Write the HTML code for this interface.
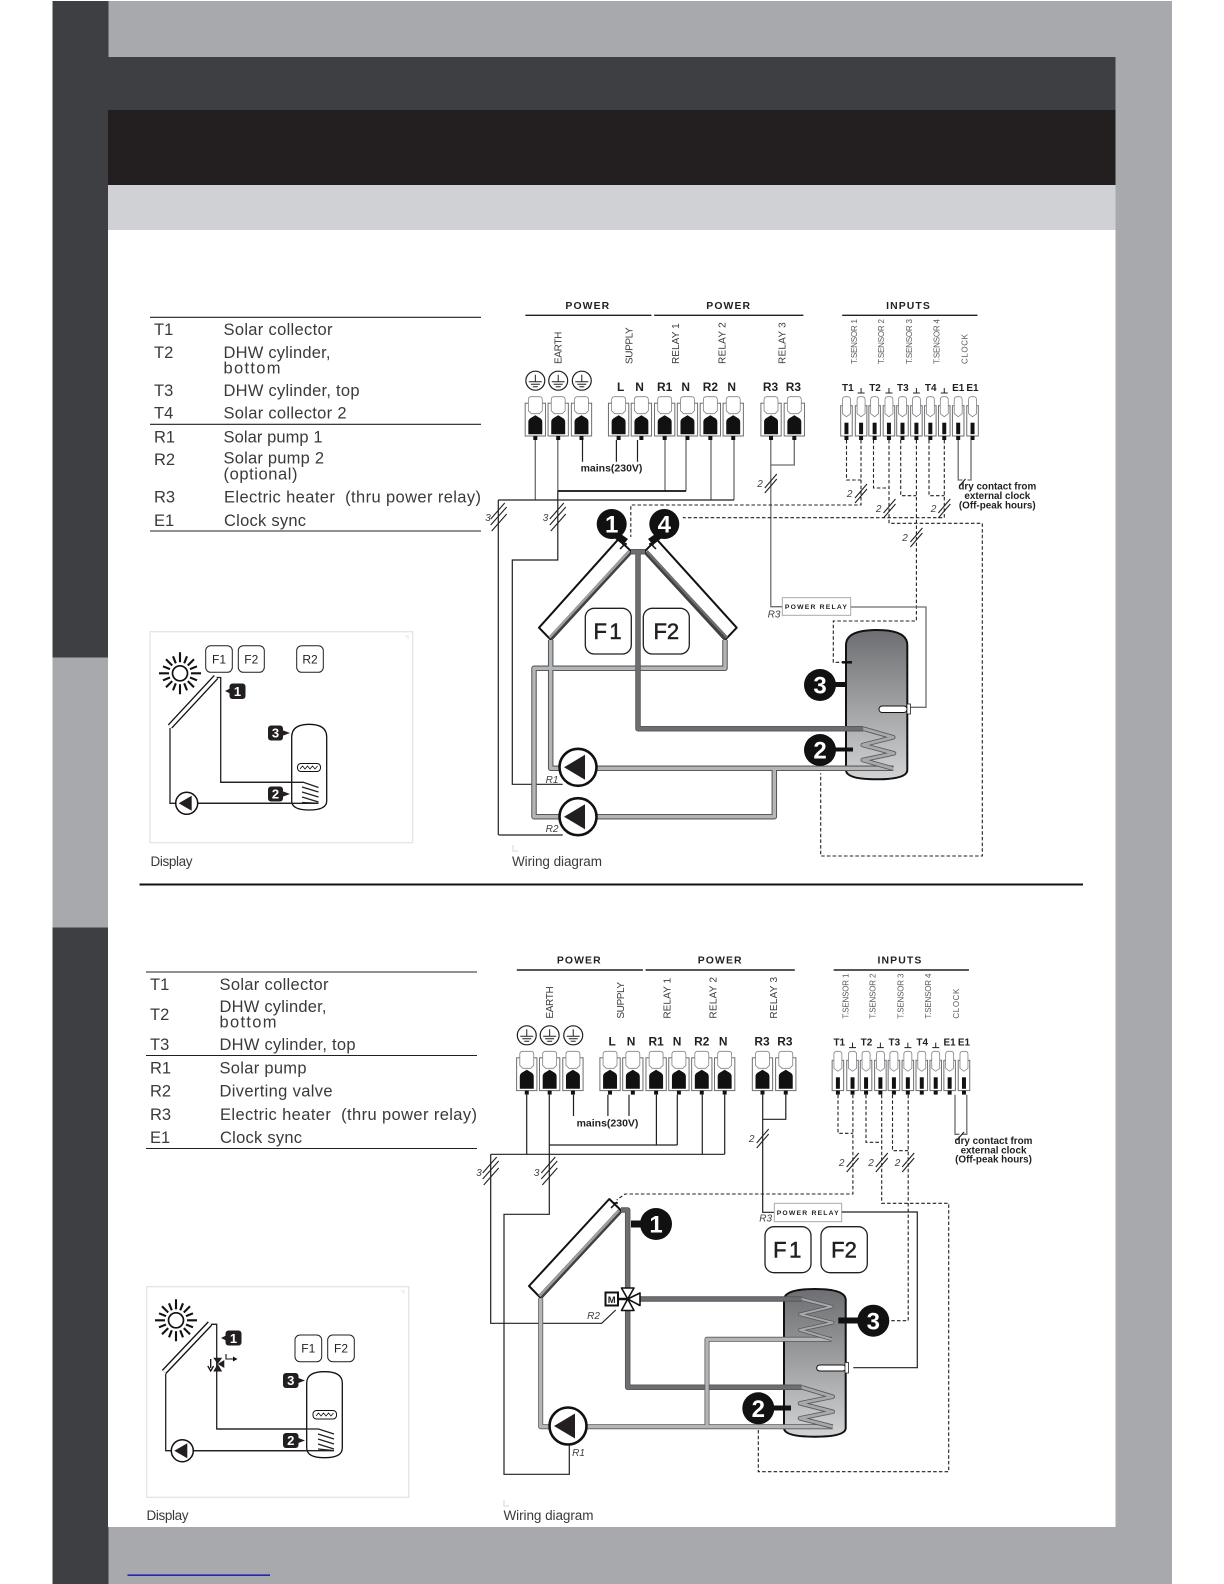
<!DOCTYPE html>
<html><head><meta charset="utf-8">
<style>
html,body{margin:0;padding:0;background:#fff;width:1224px;height:1584px;overflow:hidden}
svg{display:block}
text{font-family:"Liberation Sans",sans-serif;white-space:pre}
.t{font-size:16.5px;fill:#3a3a3c}
.h{font-size:10.5px;font-weight:bold;fill:#231f20;text-anchor:middle;letter-spacing:1.1px}
.v{font-size:10px;fill:#3a3a3c}
.vs{font-size:8px;fill:#58595b}
.b{font-size:12px;font-weight:bold;fill:#231f20;text-anchor:middle}
.bs{font-size:10px;font-weight:bold;fill:#231f20;text-anchor:middle}
.d{font-size:9.9px;font-weight:bold;fill:#231f20;text-anchor:middle}
.n{font-size:10px;font-style:italic;fill:#414042;text-anchor:middle}
.pr{font-size:6.8px;font-weight:bold;fill:#231f20;text-anchor:middle;letter-spacing:1.2px}
.c{font-size:24px;font-weight:bold;fill:#fff;text-anchor:middle}
.f{font-size:22px;fill:#231f20;text-anchor:middle;stroke:#231f20;stroke-width:.5}
.fs{font-size:12px;fill:#231f20;text-anchor:middle}
.cs{font-size:13px;font-weight:bold;fill:#fff;text-anchor:middle}
.w{fill:none;stroke:#231f20;stroke-width:1.2}
.g{fill:none;stroke:#6d6e71;stroke-width:1.3}
.k{fill:none;stroke:#231f20;stroke-width:1.1;stroke-dasharray:3.5 2.2}
.po{fill:none;stroke:#58595b;stroke-width:5.5;stroke-linejoin:round}
.pl{fill:none;stroke:#b3b5b7;stroke-width:3.4;stroke-linejoin:round}
.pd{fill:none;stroke:#6d6e71;stroke-width:3.6;stroke-linejoin:round}
.co{fill:none;stroke:#58595b;stroke-width:4.5;stroke-linejoin:round}
.cl{fill:none;stroke:#a7a9ac;stroke-width:2.8;stroke-linejoin:round}
.dl{fill:none;stroke:#231f20;stroke-width:1.3}
</style></head><body>
<svg width="1224" height="1584" viewBox="0 0 1224 1584" xmlns="http://www.w3.org/2000/svg">
<defs>
<linearGradient id="tank" x1="0" y1="0" x2="0" y2="1"><stop offset="0" stop-color="#6d6e71"/><stop offset="1" stop-color="#d1d3d4"/></linearGradient>
<g id="tb">
<rect x="-10.2" y="6.5" width="20.4" height="32.8" fill="#fff" stroke="#6d6e71" stroke-width="1"/>
<path d="M-7 14V3q0-3 3-3h8q3 0 3 3v11l-3 3h-8z" fill="#fff" stroke="#808285" stroke-width=".8"/>
<path d="M-7 37.5V25q0-2 2-3.500l5-3 5 3q2 1.500 2 3.500v12.500z" fill="#111"/>
<rect x="-2" y="39.3" width="4" height="4" fill="#111"/>
</g>
<g id="ts">
<rect x="-5.8" y="9" width="11.6" height="30.3" fill="#fff" stroke="#6d6e71" stroke-width="1"/>
<path d="M-4 17V3q0-3 3-3h2q3 0 3 3v14l-4 3z" fill="#fff" stroke="#808285" stroke-width=".8"/>
<rect x="-2" y="26" width="4" height="11.5" fill="#111"/>
<rect x="-2" y="39.3" width="4" height="4" fill="#111"/>
</g>
<g id="e" fill="none" stroke="#231f20" stroke-width="1">
<circle r="9.5" stroke-width="1.2"/><path d="M0-6V1M-6.5 1H6.5M-4.5 3.5H4.5M-2.5 6H2.5"/>
</g>
<g id="gd" fill="none" stroke="#231f20" stroke-width="1"><path d="M0-5V0M-3.5 0H3.5"/></g>
<path id="s3" d="M-8 6L6-10M-8 12L8-6M-7 18L8 1" fill="none" stroke="#231f20" stroke-width="1.1" transform="translate(0,-4)"/>
<path id="s2" d="M-6 5L6-9M-6 10L6-4" fill="none" stroke="#231f20" stroke-width="1.1"/>
<g id="pump">
<circle r="18.5" fill="#fff" stroke="#111" stroke-width="2.6"/>
<path d="M-14 0L7-12.5V12.5z" fill="#231f20"/>
</g>
<g id="sun" fill="none" stroke="#111" stroke-width="2.1">
<circle r="7.5" stroke-width="1.7"/>
<path d="M11 0H21M-11 0H-21M0 11V21M0-11V-21M7.8 7.8L14 14M-7.8 7.8L-14 14M7.8-7.8L14-14M-7.8-7.8L-14-14M10 4.2L17 7M-10 4.2L-17 7M10-4.2L17-7M-10-4.2L-17-7M4.2 10L7 17M-4.2 10L-7 17M4.2-10L7-17M-4.2-10L-7-17"/>
</g>
<g id="minip"><circle r="11" fill="#fff" stroke="#111" stroke-width="1.5"/><path d="M-8 0L5-7.5V7.5z" fill="#231f20"/></g>
</defs>

<!-- page background -->
<rect x="52.5" y="1" width="1119.5" height="1583" fill="#a7a9ac"/>
<rect x="52.5" y="1" width="56" height="656.5" fill="#3d3f42"/>
<rect x="52.5" y="927.5" width="56" height="656.5" fill="#3d3f42"/>
<rect x="108" y="57" width="1007.5" height="53" fill="#3d3f42"/>
<rect x="108" y="110" width="1007.5" height="75" fill="#231f20"/>
<rect x="108" y="185" width="1007.5" height="45" fill="#d0d1d5"/>
<rect x="108" y="230" width="1007.5" height="1297" fill="#fff"/>
<rect x="127.5" y="1574.5" width="142.500" height="1.3" fill="#0000e0"/>
<rect x="139.5" y="883.5" width="943.5" height="2" fill="#111"/>

<!-- table 1 -->
<g stroke="#231f20" stroke-width="1.1"><path d="M150 317.3H481M150 424.3H481M150 531H481"/></g>
<text class="t" x="154" y="335">T1</text><text class="t" x="223.5" y="335" textLength="109">Solar collector</text>
<text class="t" x="154" y="358">T2</text><text class="t" x="223.5" y="358" textLength="107">DHW cylinder,</text><text class="t" x="223.5" y="373.5" textLength="57">bottom</text>
<text class="t" x="154" y="396">T3</text><text class="t" x="223.5" y="396" textLength="136">DHW cylinder, top</text>
<text class="t" x="154" y="418.5">T4</text><text class="t" x="223.5" y="418.5" textLength="123">Solar collector 2</text>
<text class="t" x="154" y="442.3">R1</text><text class="t" x="223.5" y="442.3" textLength="99">Solar pump 1</text>
<text class="t" x="154" y="465">R2</text><text class="t" x="223.5" y="463.3" textLength="100.5">Solar pump 2</text><text class="t" x="223.5" y="479.5" textLength="74">(optional)</text>
<text class="t" x="154" y="502.7">R3</text><text class="t" x="224" y="502.7" textLength="257">Electric heater  (thru power relay)</text>
<text class="t" x="154" y="526">E1</text><text class="t" x="224" y="526" textLength="82">Clock sync</text>

<!-- table 2 -->
<g stroke="#231f20" stroke-width="1.1"><path d="M146 972H477M146 1055.5H477M146 1148.5H477"/></g>
<text class="t" x="150" y="990">T1</text><text class="t" x="219.5" y="990" textLength="109">Solar collector</text>
<text class="t" x="150" y="1020">T2</text><text class="t" x="219.5" y="1012" textLength="107">DHW cylinder,</text><text class="t" x="219.5" y="1027.5" textLength="57">bottom</text>
<text class="t" x="150" y="1050">T3</text><text class="t" x="219.5" y="1050" textLength="136">DHW cylinder, top</text>
<text class="t" x="150" y="1073.5">R1</text><text class="t" x="219.5" y="1073.5" textLength="87">Solar pump</text>
<text class="t" x="150" y="1096.5">R2</text><text class="t" x="219.5" y="1096.5" textLength="113">Diverting valve</text>
<text class="t" x="150" y="1120">R3</text><text class="t" x="220" y="1120" textLength="257">Electric heater  (thru power relay)</text>
<text class="t" x="150" y="1143">E1</text><text class="t" x="220" y="1143" textLength="82">Clock sync</text>

<!-- captions -->
<text class="t" x="150.5" y="866" style="font-size:13.5px" textLength="42">Display</text>
<text class="t" x="512" y="866" style="font-size:13.5px" textLength="90">Wiring diagram</text>
<text class="t" x="146.5" y="1520" style="font-size:13.5px" textLength="42">Display</text>
<text class="t" x="503.5" y="1520" style="font-size:13.5px" textLength="90">Wiring diagram</text>
<path d="M513 845V851H518M504 1500V1506H509" fill="none" stroke="#e3e4e5" stroke-width="1.5"/>

<!-- display panel 1 -->
<rect x="150" y="631.7" width="262.7" height="211" fill="#fff" stroke="#e3e4e5" stroke-width="1.3"/>
<path d="M405 636h3v3" fill="none" stroke="#e3e4e5"/>
<use href="#sun" x="180" y="673.3"/>
<g fill="#fff" stroke="#231f20" stroke-width="1"><rect x="205.7" y="645.7" width="26.6" height="26.6" rx="5"/><rect x="238.3" y="645.7" width="26" height="26.6" rx="5"/><rect x="296.7" y="645.7" width="26.6" height="26.6" rx="5"/></g>
<text class="fs" x="219" y="663.5">F1</text><text class="fs" x="251.3" y="663.5">F2</text><text class="fs" x="310" y="663.5">R2</text>
<path d="M216 677L170 726.5" stroke="#111" stroke-width="6" fill="none"/><path d="M216 677L170 726.5" stroke="#fff" stroke-width="3.4" fill="none"/>
<path class="dl" d="M216.7 677.5H220.7V782.3H303.3M170 728V803.3H176M197 803.3H318.3"/>
<path d="M291.7 737q0-12.7 17.5-12.7t17.5 12.7v64q0 9-17.5 9t-17.5-9z" fill="#fff" stroke="#111" stroke-width="1.3"/>
<path class="dl" d="M220.7 782.3H303.3L318.5 787.5M302 787L318.5 792M302 792L318.5 797M302 797L318.5 802M302 802.5L318.5 803.3M197 803.3H318.3"/>
<rect x="297.5" y="763.5" width="23" height="8" rx="3.5" fill="#fff" stroke="#111" stroke-width="1"/>
<path d="M300 769l2.5-3 2.5 3 2.5-3 2.5 3 2.5-3 2.5 3 2.5-3" fill="none" stroke="#111" stroke-width=".8"/>
<use href="#minip" x="186.7" y="803.3"/>
<g fill="#231f20">
<rect x="229.5" y="683.5" width="16" height="15.5" rx="3"/><path d="M225 691l6-3v6z"/>
<rect x="268" y="725.5" width="15" height="15" rx="3"/><path d="M290 733l-8-3v6z"/>
<rect x="268" y="786.5" width="15" height="15" rx="3"/><path d="M290 794l-8-3v6z"/>
</g>
<text class="cs" x="237.5" y="696">1</text><text class="cs" x="275.5" y="737.5">3</text><text class="cs" x="275.5" y="798.5">2</text>

<!-- display panel 2 -->
<rect x="146.7" y="1286.7" width="262" height="210.6" fill="#fff" stroke="#e3e4e5" stroke-width="1.3"/>
<path d="M401 1291h3v3" fill="none" stroke="#e3e4e5"/>
<use href="#sun" x="176" y="1320.3"/>
<g fill="#fff" stroke="#231f20" stroke-width="1"><rect x="295" y="1335" width="26.7" height="26.7" rx="5"/><rect x="327.7" y="1335" width="26.6" height="26.7" rx="5"/></g>
<text class="fs" x="308.3" y="1352.5">F1</text><text class="fs" x="341" y="1352.5">F2</text>
<path d="M210 1323.5L164 1372" stroke="#111" stroke-width="6" fill="none"/><path d="M210 1323.5L164 1372" stroke="#fff" stroke-width="3.4" fill="none"/>
<path class="dl" d="M211 1324.3H216.7V1429H318.3M165.7 1374V1450.7H172M193 1450.7H333.3"/>
<path d="M306.7 1383q0-11.3 17.8-11.3t17.8 11.3v65q0 9.7-17.8 9.7t-17.8-9.7z" fill="#fff" stroke="#111" stroke-width="1.3"/>
<path class="dl" d="M217 1429H318.5L334 1434M318 1434L334 1439M318 1439L334 1444M318 1444L334 1449M318 1449L334 1450.7M193 1450.7H333.3"/>
<rect x="313" y="1410.5" width="23.5" height="8.5" rx="3.5" fill="#fff" stroke="#111" stroke-width="1"/>
<path d="M316 1416l2.5-3 2.5 3 2.5-3 2.5 3 2.5-3 2.5 3 2.5-3" fill="none" stroke="#111" stroke-width=".8"/>
<path d="M213.2 1357.700h9l-4.500 6.300zM213.2 1371.500h9l-4.500-7.500zM224.300 1360v8l-6.600-4z" fill="#231f20"/>
<path d="M210.700 1359v9M207.800 1366l2.900 5 2.900-5" fill="none" stroke="#111" stroke-width="1.3"/>
<path d="M226 1354v5h8" fill="none" stroke="#111" stroke-width="1.1"/><path d="M233 1356.500l4.500 2.500-4.500 2.500z" fill="#111"/>
<use href="#minip" x="182.3" y="1450.7"/>
<g fill="#231f20">
<rect x="225.500" y="1330.500" width="16" height="15" rx="3"/><path d="M221 1338l6-3v6z"/>
<rect x="283" y="1373" width="15.500" height="15" rx="3"/><path d="M305 1380.500l-8-3v6z"/>
<rect x="283" y="1433" width="15.500" height="15" rx="3"/><path d="M305 1440.500l-8-3v6z"/>
</g>
<text class="cs" x="233.500" y="1343">1</text><text class="cs" x="290.800" y="1385">3</text><text class="cs" x="290.800" y="1445">2</text>

<!-- HEADER TOP -->
<g transform="translate(2.4,0) scale(.995,1)">
<text class="h" x="588.4" y="309">POWER</text><text class="h" x="730" y="309">POWER</text><text class="h" x="910.7" y="309">INPUTS</text>
<path d="M525.6 315.3H652.3M655 315.3H805M844 315.3H980" stroke="#231f20" stroke-width="1.3"/>
<text class="v" transform="translate(562,364) rotate(-90)" textLength="32.3">EARTH</text>
<text class="v" transform="translate(633.5,364) rotate(-90)" textLength="36.7">SUPPLY</text>
<text class="v" transform="translate(680,364) rotate(-90)" textLength="40.7">RELAY 1</text>
<text class="v" transform="translate(726.5,364) rotate(-90)" textLength="41.7">RELAY 2</text>
<text class="v" transform="translate(787,364) rotate(-90)" textLength="41.7">RELAY 3</text>
<text class="vs" transform="translate(859,364) rotate(-90)" textLength="45">T.SENSOR 1</text>
<text class="vs" transform="translate(886,364) rotate(-90)" textLength="45">T.SENSOR 2</text>
<text class="vs" transform="translate(914,364) rotate(-90)" textLength="45">T.SENSOR 3</text>
<text class="vs" transform="translate(942,364) rotate(-90)" textLength="45">T.SENSOR 4</text>
<text class="vs" transform="translate(970,364) rotate(-90)" textLength="30">CLOCK</text>
<use href="#e" x="535.6" y="380.7"/><use href="#e" x="558.6" y="380.7"/><use href="#e" x="582.3" y="380.7"/>
<text class="b" x="621.4" y="391">L</text><text class="b" x="640.4" y="391">N</text><text class="b" x="665.6" y="391">R1</text><text class="b" x="686.7" y="391">N</text><text class="b" x="711.5" y="391">R2</text><text class="b" x="733" y="391">N</text><text class="b" x="772" y="391">R3</text><text class="b" x="795" y="391">R3</text>
<text class="bs" x="849.7" y="391">T1</text><text class="bs" x="877" y="391">T2</text><text class="bs" x="905" y="391">T3</text><text class="bs" x="933" y="391">T4</text><text class="bs" x="960.6" y="391">E1</text><text class="bs" x="975" y="391">E1</text>
<use href="#gd" x="863" y="393"/><use href="#gd" x="891" y="393"/><use href="#gd" x="918.6" y="393"/><use href="#gd" x="946.6" y="393"/>
<g transform="translate(0,396.7)">
<use href="#tb" x="535.6"/><use href="#tb" x="558.6"/><use href="#tb" x="582"/><use href="#tb" x="619.3"/><use href="#tb" x="642.2"/><use href="#tb" x="665.6"/><use href="#tb" x="688.5"/><use href="#tb" x="711.5"/><use href="#tb" x="734.5"/><use href="#tb" x="772.5"/><use href="#tb" x="795.9"/>
<use href="#ts" x="848.3"/><use href="#ts" x="863"/><use href="#ts" x="876.6"/><use href="#ts" x="891"/><use href="#ts" x="904.6"/><use href="#ts" x="918.6"/><use href="#ts" x="932.6"/><use href="#ts" x="946.6"/><use href="#ts" x="960.6"/><use href="#ts" x="975"/>
</g>
</g>

<!-- HEADER BOTTOM -->
<g transform="translate(2.4,0) scale(.995,1)">
<text class="h" x="579.8" y="963.6">POWER</text><text class="h" x="721.4" y="963.6">POWER</text><text class="h" x="902.1" y="963.6">INPUTS</text>
<path d="M517 970H643.7M646.4 970H796.4M835.4 970H971.4" stroke="#231f20" stroke-width="1.5"/>
<text class="v" transform="translate(553.4,1018.6) rotate(-90)" textLength="32.3">EARTH</text>
<text class="v" transform="translate(624.9,1018.6) rotate(-90)" textLength="36.7">SUPPLY</text>
<text class="v" transform="translate(671.4,1018.6) rotate(-90)" textLength="40.7">RELAY 1</text>
<text class="v" transform="translate(717.9,1018.6) rotate(-90)" textLength="41.7">RELAY 2</text>
<text class="v" transform="translate(778.4,1018.6) rotate(-90)" textLength="41.7">RELAY 3</text>
<text class="vs" transform="translate(850.4,1018.6) rotate(-90)" textLength="45">T.SENSOR 1</text>
<text class="vs" transform="translate(877.4,1018.6) rotate(-90)" textLength="45">T.SENSOR 2</text>
<text class="vs" transform="translate(905.4,1018.6) rotate(-90)" textLength="45">T.SENSOR 3</text>
<text class="vs" transform="translate(933.4,1018.6) rotate(-90)" textLength="45">T.SENSOR 4</text>
<text class="vs" transform="translate(961.4,1018.6) rotate(-90)" textLength="30">CLOCK</text>
<use href="#e" x="527" y="1035.3"/><use href="#e" x="550" y="1035.3"/><use href="#e" x="573.7" y="1035.3"/>
<text class="b" x="612.8" y="1045.6">L</text><text class="b" x="631.8" y="1045.6">N</text><text class="b" x="657" y="1045.6">R1</text><text class="b" x="678.1" y="1045.6">N</text><text class="b" x="702.9" y="1045.6">R2</text><text class="b" x="724.4" y="1045.6">N</text><text class="b" x="763.4" y="1045.6">R3</text><text class="b" x="786.4" y="1045.6">R3</text>
<text class="bs" x="841.1" y="1045.6">T1</text><text class="bs" x="868.4" y="1045.6">T2</text><text class="bs" x="896.4" y="1045.6">T3</text><text class="bs" x="924.4" y="1045.6">T4</text><text class="bs" x="952" y="1045.6">E1</text><text class="bs" x="966.4" y="1045.6">E1</text>
<use href="#gd" x="854.4" y="1047.6"/><use href="#gd" x="882.4" y="1047.6"/><use href="#gd" x="910" y="1047.6"/><use href="#gd" x="938" y="1047.6"/>
<g transform="translate(-8.6,1051.3)">
<use href="#tb" x="535.6"/><use href="#tb" x="558.6"/><use href="#tb" x="582"/><use href="#tb" x="619.3"/><use href="#tb" x="642.2"/><use href="#tb" x="665.6"/><use href="#tb" x="688.5"/><use href="#tb" x="711.5"/><use href="#tb" x="734.5"/><use href="#tb" x="772.5"/><use href="#tb" x="795.9"/>
<use href="#ts" x="848.3"/><use href="#ts" x="863"/><use href="#ts" x="876.6"/><use href="#ts" x="891"/><use href="#ts" x="904.6"/><use href="#ts" x="918.6"/><use href="#ts" x="932.6"/><use href="#ts" x="946.6"/><use href="#ts" x="960.6"/><use href="#ts" x="975"/>
</g>
</g>

<!-- TOP: wiring -->
<path class="g" d="M535.3 440V500M557.8 440V491M665 440V491M686 440V491M711 440V500M734 440V500M770.8 440V606.7H782.3M794.3 440V465H770.8M958.2 440V480H962.5M971 440V480H967.5"/>
<path d="M557.8 491H686" stroke="#111" stroke-width="1.7" fill="none"/>
<path class="w" d="M582.500 440V461.7M616.4 440V461.7M637.5 440V461.7M557.8 491V560H512.3V784.3H562.7M498.7 835H562.7M498.3 500V835M498.3 500H734M959.5 486L965.500 479"/>
<text class="d" x="611.5" y="471.5" style="font-size:10.5px">mains(230V)</text>
<use href="#s3" x="498.7" y="517"/><use href="#s3" x="557.8" y="517"/><use href="#s2" x="770.8" y="483"/><use href="#s2" x="861" y="493"/><use href="#s2" x="889.5" y="508"/><use href="#s2" x="944.3" y="508"/><use href="#s2" x="916.4" y="537"/>
<text class="n" x="488" y="521">3</text><text class="n" x="545.5" y="521">3</text><text class="n" x="760" y="487">2</text><text class="n" x="849.6" y="497">2</text><text class="n" x="878.6" y="512">2</text><text class="n" x="933.5" y="512">2</text><text class="n" x="905" y="541">2</text>
<path class="k" d="M846.5 440V480H861M861 440V505H630.8V537M873.5 440V488H889M889 440V523.3H982.3V856H820.7V773.3M900.7 440V495.7H916.4M916.4 440V621H833.3V662.3H842M929 440V495.7H944.3M944.3 440V517.7H682.8"/>
<text class="d" x="997.300" y="489.5">dry contact from</text><text class="d" x="997.300" y="499">external clock</text><text class="d" x="997.300" y="508.5">(Off-peak hours)</text>
<rect x="782.3" y="597.7" width="68.4" height="17.6" fill="#fff" stroke="#a7a9ac" stroke-width="1"/>
<text class="pr" x="816.5" y="609">POWER RELAY</text>
<text class="n" x="774" y="617.5">R3</text>
<path class="g" d="M850.7 607H926V707.3H910.7"/>

<!-- TOP: collectors -->
<path d="M618.3 539.3L631.7 551.7L551 640L539 627.7Z" fill="#fff" stroke="#111" stroke-width="2" stroke-linejoin="round"/>
<path d="M630 552L550 639" stroke="#414042" stroke-width="5" fill="none"/><path d="M629 551.5L549.5 637.5" stroke="#9d9fa2" stroke-width="2.5" fill="none"/>
<path d="M644.3 551.7L656.7 539.3L736.7 627.7L725 640Z" fill="#fff" stroke="#111" stroke-width="2" stroke-linejoin="round"/>
<path d="M646 552L726 639" stroke="#414042" stroke-width="5" fill="none"/><path d="M647 551.5L727 637.5" stroke="#6d6e71" stroke-width="2.5" fill="none"/>
<path d="M620 549l6-6M622 544h5M656 549l-6-6M654 544h-5" stroke="#111" stroke-width="1.5" fill="none"/>

<!-- TOP: tank -->
<path d="M846 645q0-15 30.65-15t30.65 15V770q0 9.3-30.65 9.3t-30.65-9.3z" fill="url(#tank)" stroke="#111" stroke-width="2"/>
<path d="M852 662.3H842" stroke="#111" stroke-width="2.5"/>
<rect x="879" y="706" width="28" height="6.5" rx="3.2" fill="#fff" stroke="#111" stroke-width="1"/>
<rect x="907" y="704" width="3.5" height="10" fill="#fff" stroke="#231f20" stroke-width=".8"/>

<!-- TOP: pipes -->
<path class="po" d="M550.7 640V768.3H560M597 768.3H893.3M774.3 768.3V816.7H597M725 640V668.3H534V816.7H560"/>
<path class="pl" d="M550.7 640V768.3H560M597 768.3H893.3M774.3 768.3V816.7H597M725 640V668.3H534V816.7H560"/>
<path class="po" d="M631 551.7H645M638 551.7V728.7H863.3"/>
<path class="pd" d="M631 551.7H645M638 551.7V728.7H863.3"/>
<path class="co" d="M863.3 728.7L893.3 737.3L862.7 745L894 753.3L862.7 760L893.3 768.7"/>
<path class="cl" d="M863.3 728.7L893.3 737.3L862.7 745L894 753.3L862.7 760L893.3 768.7"/>
<use href="#pump" x="578" y="767.3"/><use href="#pump" x="578" y="816.7"/>
<text class="n" x="552" y="783">R1</text><text class="n" x="552" y="832">R2</text>

<!-- TOP: callouts -->
<g fill="#111">
<circle cx="611.7" cy="524" r="15"/><path d="M618 532l10 7-5 6-10-8z"/>
<circle cx="664.3" cy="524" r="15"/><path d="M658 532l-10 7 5 6 10-8z"/>
<circle cx="820" cy="685" r="16"/><rect x="830" y="682" width="16" height="5"/>
<circle cx="820" cy="750" r="16"/><rect x="830" y="747.5" width="23" height="4"/>
</g>
<text class="c" x="611.7" y="532.5">1</text><text class="c" x="664.3" y="532.5">4</text><text class="c" x="820" y="693.5">3</text><text class="c" x="820" y="758.5">2</text>
<g fill="#fff" stroke="#231f20" stroke-width="1.3"><rect x="585.3" y="608.3" width="46" height="45.7" rx="9"/><rect x="643.3" y="608.3" width="46" height="45.7" rx="9"/></g>
<text class="f" x="608.8" y="639" style="letter-spacing:2.5px">F1</text><text class="f" x="666.3" y="639">F2</text>

<!-- BOTTOM: wiring -->
<path class="w" d="M526.7 1094.7V1154.3M549.3 1094.7V1214.3H504V1474.3H569.3V1445M573.5 1094.7V1116M607.9 1094.7V1116M629 1094.7V1116M656.4 1094.7V1145M677.3 1094.7V1145M702.3 1094.7V1154.3M724.7 1094.7V1154.3M549.3 1145H677.3M490.7 1154.3H724.7M490.7 1154.3V1323.3H601.7L615.7 1310M762.7 1094.7V1212.3H774.3M785.8 1094.7V1119.3H762.7"/>
<text class="d" x="607.5" y="1126.5" style="font-size:10.5px">mains(230V)</text>
<path class="g" d="M955 1094.7V1134.3H959.500M966.8 1094.7V1134.3H962.500"/>
<path class="w" d="M957 1140L964 1132"/>
<use href="#s3" x="490.7" y="1171"/><use href="#s3" x="549.3" y="1171"/><use href="#s2" x="762.7" y="1138"/><use href="#s2" x="852.7" y="1162"/><use href="#s2" x="881.8" y="1162"/><use href="#s2" x="908.2" y="1162"/>
<text class="n" x="479" y="1176">3</text><text class="n" x="536.7" y="1176">3</text><text class="n" x="751.7" y="1142">2</text><text class="n" x="841.7" y="1166">2</text><text class="n" x="871" y="1166">2</text><text class="n" x="897.5" y="1166">2</text>
<path class="k" d="M838 1094.7V1133.3H852.9M852.9 1094.7V1194H625L616.7 1200M866 1094.7V1142.3H881.7M881.7 1094.7V1203.3H948.7V1471.7H758.3V1428.3M892.5 1094.7V1150.7H908.2M908.2 1094.7V1320.7H886.7"/>
<text class="d" x="993.500" y="1144">dry contact from</text><text class="d" x="993.500" y="1153.5">external clock</text><text class="d" x="993.500" y="1162.5">(Off-peak hours)</text>
<rect x="774.3" y="1203.3" width="67.4" height="18.4" fill="#fff" stroke="#a7a9ac" stroke-width="1"/>
<text class="pr" x="808.3" y="1215">POWER RELAY</text>
<text class="n" x="765.7" y="1221.5">R3</text>
<path class="w" d="M841.7 1212H917.3V1367.7H853.3"/>
<text class="n" x="593.5" y="1319">R2</text>
<text class="n" x="578.5" y="1456">R1</text>

<!-- BOTTOM: collector -->
<path d="M609.3 1199L621.7 1211L541 1298.3L529 1286Z" fill="#fff" stroke="#111" stroke-width="2" stroke-linejoin="round"/>
<path d="M620 1211L540 1297" stroke="#414042" stroke-width="5" fill="none"/><path d="M619 1210.5L539.5 1296" stroke="#9d9fa2" stroke-width="2.5" fill="none"/>
<path d="M611 1208l6-6M613 1203h5" stroke="#111" stroke-width="1.5" fill="none"/>

<!-- BOTTOM: tank -->
<path d="M784 1300q0-11 30.85-11t30.85 11V1428q0 8.7-30.85 8.7t-30.85-8.7z" fill="url(#tank)" stroke="#111" stroke-width="2"/>
<rect x="816.7" y="1365" width="29" height="6" rx="3" fill="#fff" stroke="#111" stroke-width="1"/>
<rect x="845" y="1362.5" width="3.5" height="10.5" fill="#fff" stroke="#231f20" stroke-width=".8"/>

<!-- BOTTOM: pipes -->
<path class="po" d="M621 1210H627.7V1289M627.7 1309V1387.3H801.7M640 1299H801.7"/>
<path class="pd" d="M621 1210H627.7V1289M627.7 1309V1387.3H801.7M640 1299H801.7"/>
<path class="po" d="M540.7 1298.3V1426.7H550M587 1426.7H832.7M707 1426.7V1339.3H831.7" style="stroke-width:5"/>
<path class="pl" d="M540.7 1298.3V1426.7H550M587 1426.7H832.7M707 1426.7V1339.3H831.7"/>
<path class="co" d="M801.7 1387.3L832.7 1396.7L800 1403.3L832.7 1411.7L800 1418.3L832.7 1426.7"/>
<path class="cl" d="M801.7 1387.3L832.7 1396.7L800 1403.3L832.7 1411.7L800 1418.3L832.7 1426.7"/>
<path class="co" d="M801.7 1299L831.7 1306.7L800 1314.3L832.7 1322.7L800 1330L831.7 1339.3" style="stroke-width:3.6"/>
<path class="cl" d="M801.7 1299L831.7 1306.7L800 1314.3L832.7 1322.7L800 1330L831.7 1339.3" style="stroke-width:2"/>
<use href="#pump" x="568" y="1426"/>

<!-- BOTTOM: valve -->
<g fill="#fff" stroke="#111" stroke-width="1.6" stroke-linejoin="round">
<path d="M621.5 1288H634L627.7 1299z"/><path d="M621.5 1310.5H634L627.7 1299z"/><path d="M640 1293V1305.5L627.7 1299z"/>
</g>
<path d="M618.3 1299H627.7" stroke="#111" stroke-width="2.5"/>
<rect x="605.5" y="1292.5" width="12.5" height="13" fill="#fff" stroke="#111" stroke-width="2"/>
<text x="611.7" y="1303" style="font-size:9.5px;font-weight:bold;fill:#231f20;text-anchor:middle">M</text>

<!-- BOTTOM: callouts -->
<g fill="#111">
<circle cx="656" cy="1224" r="16"/><rect x="631" y="1220.5" width="14" height="7"/>
<circle cx="873.3" cy="1320.7" r="16"/><rect x="838.3" y="1317.5" width="26" height="6"/>
<circle cx="758.3" cy="1408.3" r="16"/><rect x="770" y="1405.5" width="21" height="5"/>
</g>
<text class="c" x="656" y="1232.5">1</text><text class="c" x="873.3" y="1329.5">3</text><text class="c" x="758.3" y="1417">2</text>
<g fill="#fff" stroke="#231f20" stroke-width="1.3"><rect x="765" y="1226.7" width="46" height="46" rx="9"/><rect x="821" y="1226.7" width="46.3" height="46" rx="9"/></g>
<text class="f" x="788.5" y="1257.5" style="letter-spacing:2.5px">F1</text><text class="f" x="844" y="1257.5">F2</text>
</svg>
</body></html>
